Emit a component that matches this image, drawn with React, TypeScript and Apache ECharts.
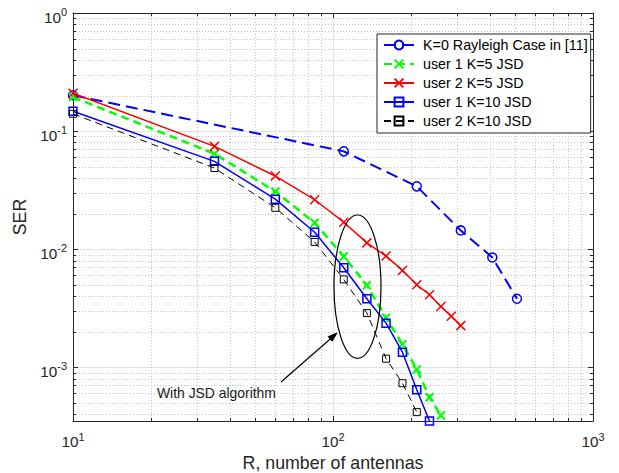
import React, { useEffect, useRef } from "react";
import * as echarts from "echarts";

// ---- data ----
const rayleighR = [10, 110, 210, 310, 410, 510];
const rayleighSER = [0.201, 0.0673, 0.034, 0.0144, 0.0085, 0.0038];

const jsdR = [10, 35, 60, 85, 110, 135, 160, 185, 210, 235, 260, 285, 310];
const user1K5 = [0.194, 0.0643, 0.0308, 0.0167, 0.00867, 0.00495, 0.00262, 0.00156, 0.000956, 0.000557, 0.00039];
const user2K5 = [0.209, 0.0742, 0.0416, 0.0262, 0.0169, 0.0113, 0.00873, 0.0066, 0.00499, 0.00411, 0.00327, 0.0027, 0.00225];
const user1K10 = [0.147, 0.0554, 0.0265, 0.0139, 0.00695, 0.0038, 0.00236, 0.00134, 0.000643, 0.00035];
const user2K10 = [0.14, 0.0486, 0.0224, 0.0115, 0.00554, 0.00287, 0.00118, 0.000731, 0.000416];

const seriesNames = [
  "K=0 Rayleigh Case in [11]",
  "user 1 K=5 JSD",
  "user 2 K=5 JSD",
  "user 1 K=10 JSD",
  "user 2 K=10 JSD",
];

const xMin = 10;
const xMax = 1000;
const yMin = 3.5e-4;
const yMax = 1;
const xMinor = [20, 30, 40, 50, 60, 70, 80, 90, 200, 300, 400, 500, 600, 700, 800, 900];
const yMinor = [
  4e-4, 5e-4, 6e-4, 7e-4, 8e-4, 9e-4,
  2e-3, 3e-3, 4e-3, 5e-3, 6e-3, 7e-3, 8e-3, 9e-3,
  0.02, 0.03, 0.04, 0.05, 0.06, 0.07, 0.08, 0.09,
  0.2, 0.3, 0.4, 0.5, 0.6, 0.7, 0.8, 0.9,
];

const annotationText = "With JSD algorithm";

const FONT = "'Liberation Sans', Arial, Helvetica, sans-serif";
const AX = "#262626";
const MINOR_GRID = "#c4c4c4";
const MAJOR_GRID = "#e0e0e0";

const pairs = (xs: number[], ys: number[]) => ys.map((y, i) => [xs[i], y]);

const powLabel = (value: number) => {
  const l = Math.log10(value);
  const e = Math.round(l);
  if (Math.abs(l - e) > 1e-6) return "";
  return `{b|10}{s|${e}}`;
};

const rich = {
  b: { fontSize: 15.3, color: AX, fontFamily: FONT, verticalAlign: "bottom", padding: [8, 0, 0, 0] },
  s: { fontSize: 11, color: AX, fontFamily: FONT, verticalAlign: "bottom", padding: [0, 0, 7, 0] },
};

const crossPath = "path://M0 0L10 10M0 10L10 0";

export default function App() {
  const ref = useRef<HTMLDivElement>(null);

  useEffect(() => {
    if (!ref.current) return;
    const chart = echarts.init(ref.current, undefined, { renderer: "svg" });

    const minorX = {
      type: "custom",
      xAxisIndex: 0,
      yAxisIndex: 0,
      z: 1,
      silent: true,
      clip: false,
      data: xMinor.map((v) => [v, 0.01]),
      renderItem: (params: any, api: any) => {
        const cs = params.coordSys;
        const p = api.coord([api.value(0), api.value(1)]);
        const x = Math.round(p[0]) + 0.5;
        return {
          type: "group",
          children: [
            { type: "line", shape: { x1: x, y1: cs.y, x2: x, y2: cs.y + cs.height }, style: { stroke: MINOR_GRID, lineWidth: 1, lineDash: [1, 2] } },
            { type: "line", shape: { x1: x, y1: cs.y + cs.height, x2: x, y2: cs.y + cs.height - 3 }, style: { stroke: AX, lineWidth: 1 } },
            { type: "line", shape: { x1: x, y1: cs.y, x2: x, y2: cs.y + 3 }, style: { stroke: AX, lineWidth: 1 } },
          ],
        };
      },
    };
    const minorY = {
      type: "custom",
      xAxisIndex: 0,
      yAxisIndex: 0,
      z: 1,
      silent: true,
      clip: false,
      data: yMinor.map((v) => [20, v]),
      renderItem: (params: any, api: any) => {
        const cs = params.coordSys;
        const p = api.coord([api.value(0), api.value(1)]);
        const y = Math.round(p[1]) + 0.5;
        return {
          type: "group",
          children: [
            { type: "line", shape: { x1: cs.x, y1: y, x2: cs.x + cs.width, y2: y }, style: { stroke: MINOR_GRID, lineWidth: 1, lineDash: [1, 2] } },
            { type: "line", shape: { x1: cs.x, y1: y, x2: cs.x + 3, y2: y }, style: { stroke: AX, lineWidth: 1 } },
            { type: "line", shape: { x1: cs.x + cs.width, y1: y, x2: cs.x + cs.width - 3, y2: y }, style: { stroke: AX, lineWidth: 1 } },
          ],
        };
      },
    };

    const lineSeries = (name: string, data: number[][], color: string, width: number, dash: any, symbol: string, size: number, symW: number, z: number) => ({
      type: "line",
      name,
      data,
      z,
      clip: false,
      symbol,
      symbolSize: size,
      showAllSymbol: true,
      lineStyle: { color, width, type: dash },
      itemStyle: { color: "rgba(255,255,255,0)", borderColor: color, borderWidth: symW },
      emphasis: { disabled: true },
    });

    // arrow geometry (annotation)
    const tip = [337, 333];
    const tail = [281, 382];
    const dx = tip[0] - tail[0];
    const dy = tip[1] - tail[1];
    const len = Math.hypot(dx, dy);
    const ux = dx / len;
    const uy = dy / len;
    const hl = 9;
    const hw = 3;
    const bx = tip[0] - ux * hl;
    const by = tip[1] - uy * hl;

    chart.setOption({
      animation: false,
      backgroundColor: "#ffffff",
      textStyle: { fontFamily: FONT },
      grid: { left: 73, right: 26, top: 13, bottom: 52, show: false, outerBoundsMode: "none" },
      legend: {
        data: seriesNames,
        orient: "vertical",
        left: 377,
        top: 34,
        itemWidth: 30,
        itemHeight: 11,
        itemGap: 5,
        padding: [4, 3, 5, 6],
        backgroundColor: "#ffffff",
        borderColor: AX,
        borderWidth: 1,
        selectedMode: false,
        textStyle: { fontSize: 14.3, color: "#000", fontFamily: FONT, padding: [0, 0, 0, 4] },
        z: 10,
      },
      xAxis: [
        {
          type: "log",
          min: xMin,
          max: xMax,
          name: "R, number of antennas",
          nameLocation: "middle",
          nameGap: 32,
          nameTextStyle: { fontSize: 17.8, color: AX, fontFamily: FONT },
          axisLine: { show: true, lineStyle: { color: AX, width: 1 } },
          axisTick: { show: true, inside: true, length: 5, lineStyle: { color: AX } },
          axisLabel: { formatter: powLabel, rich, margin: 5, color: AX, fontSize: 15.3, fontFamily: FONT },
          splitLine: { show: true, lineStyle: { color: MAJOR_GRID, width: 1 } },
          minorTick: { show: false },
        },
        {
          type: "log",
          min: xMin,
          max: xMax,
          position: "top",
          axisLine: { show: true, lineStyle: { color: AX, width: 1 } },
          axisTick: { show: true, inside: true, length: 5, lineStyle: { color: AX } },
          axisLabel: { show: false },
          splitLine: { show: false },
        },
      ],
      yAxis: [
        {
          type: "log",
          min: yMin,
          max: yMax,
          name: "SER",
          nameLocation: "middle",
          nameGap: 44,
          nameTextStyle: { fontSize: 17.8, color: AX, fontFamily: FONT },
          axisLine: { show: true, lineStyle: { color: AX, width: 1 } },
          axisTick: { show: true, inside: true, length: 5, lineStyle: { color: AX } },
          axisLabel: { formatter: powLabel, rich, margin: 6, color: AX, fontSize: 15.3, fontFamily: FONT },
          splitLine: { show: true, lineStyle: { color: MAJOR_GRID, width: 1 } },
        },
        {
          type: "log",
          min: yMin,
          max: yMax,
          position: "right",
          axisLine: { show: true, lineStyle: { color: AX, width: 1 } },
          axisTick: { show: true, inside: true, length: 5, lineStyle: { color: AX } },
          axisLabel: { show: false },
          splitLine: { show: false },
        },
      ],
      series: [
        minorX,
        minorY,
        lineSeries(seriesNames[0], pairs(rayleighR, rayleighSER), "#0000ff", 2, [12, 6], "circle", 9, 1.5, 3),
        lineSeries(seriesNames[1], pairs(jsdR, user1K5), "#00ff00", 2.5, [8, 5], crossPath, 8, 2, 4),
        lineSeries(seriesNames[2], pairs(jsdR, user2K5), "#ff0000", 1.5, "solid", crossPath, 9, 1.5, 5),
        lineSeries(seriesNames[3], pairs(jsdR, user1K10), "#0000ff", 1.5, "solid", "rect", 8, 1.5, 6),
        lineSeries(seriesNames[4], pairs(jsdR, user2K10), "#000000", 1, [7, 5], "rect", 7, 1, 7),
      ],
      graphic: [
        {
          type: "ellipse",
          shape: { cx: 357.5, cy: 286.7, rx: 23.5, ry: 71.7 },
          style: { fill: "none", stroke: "#000", lineWidth: 1.2 },
          z: 20,
        },
        {
          type: "line",
          shape: { x1: tail[0], y1: tail[1], x2: bx, y2: by },
          style: { stroke: "#000", lineWidth: 1.2 },
          z: 20,
        },
        {
          type: "polygon",
          shape: {
            points: [
              [tip[0], tip[1]],
              [bx - uy * hw, by + ux * hw],
              [bx + uy * hw, by - ux * hw],
            ],
          },
          style: { fill: "#000", stroke: "#000", lineWidth: 1 },
          z: 20,
        },
        {
          type: "text",
          x: 157,
          y: 393,
          style: { text: annotationText, fontSize: 13.9, fill: "#1a1a1a", fontFamily: FONT, verticalAlign: "middle", align: "left" },
          z: 20,
        },
      ],
    });

    return () => chart.dispose();
  }, []);

  return (
    <div
      ref={ref}
      style={{ position: "fixed", left: 0, top: 0, width: 619, height: 473, background: "#fff" }}
    />
  );
}
